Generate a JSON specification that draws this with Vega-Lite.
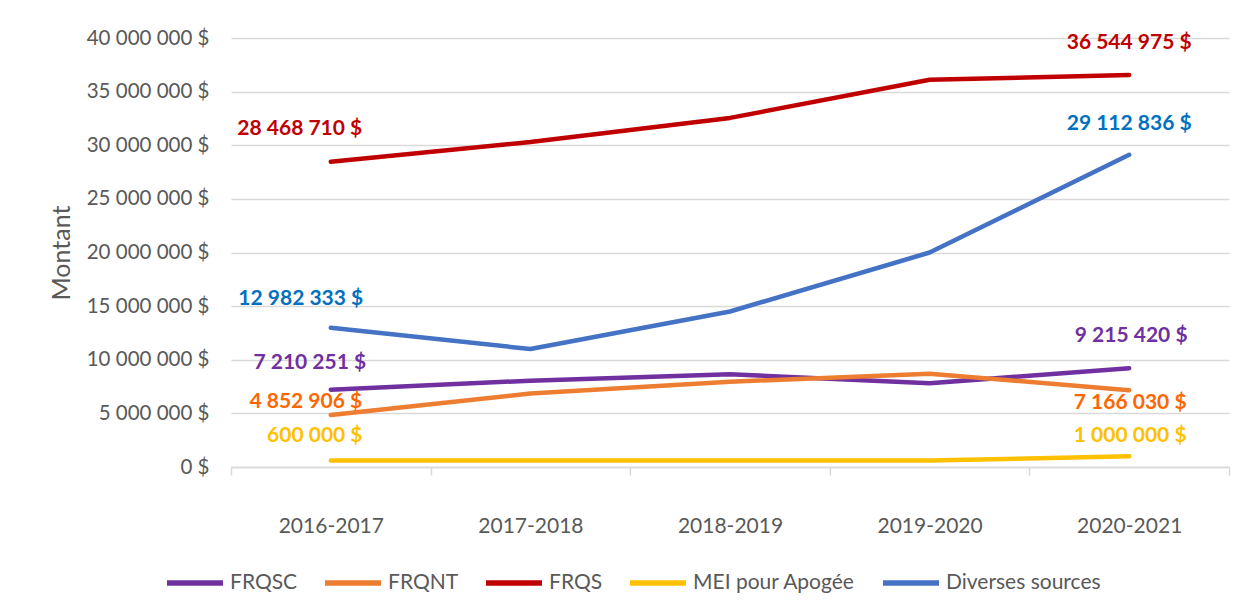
{
  "$schema": "https://vega.github.io/schema/vega-lite/v6.json",
  "autosize": {"type": "none"},
  "padding": {"left": 231, "top": 38, "right": 25, "bottom": 145},
  "width": 998,
  "height": 429,
  "background": "white",
  "config": {
    "locale": {"number": {"decimal": ",", "thousands": " ", "grouping": [3], "currency": ["", " $"]}},
    "view": {"stroke": null},
    "font": "Lato",
    "text": {"font": "Lato", "fontWeight": "bold", "fontSize": 21}
  },
  "data": {
    "values": [
      {"series": "FRQSC", "year": "2016-2017", "value": 7210251},
      {"series": "FRQSC", "year": "2017-2018", "value": 8050000},
      {"series": "FRQSC", "year": "2018-2019", "value": 8650000},
      {"series": "FRQSC", "year": "2019-2020", "value": 7800000},
      {"series": "FRQSC", "year": "2020-2021", "value": 9215420},
      {"series": "FRQNT", "year": "2016-2017", "value": 4852906},
      {"series": "FRQNT", "year": "2017-2018", "value": 6850000},
      {"series": "FRQNT", "year": "2018-2019", "value": 7950000},
      {"series": "FRQNT", "year": "2019-2020", "value": 8700000},
      {"series": "FRQNT", "year": "2020-2021", "value": 7166030},
      {"series": "FRQS", "year": "2016-2017", "value": 28468710},
      {"series": "FRQS", "year": "2017-2018", "value": 30300000},
      {"series": "FRQS", "year": "2018-2019", "value": 32550000},
      {"series": "FRQS", "year": "2019-2020", "value": 36100000},
      {"series": "FRQS", "year": "2020-2021", "value": 36544975},
      {"series": "MEI pour Apogée", "year": "2016-2017", "value": 600000},
      {"series": "MEI pour Apogée", "year": "2017-2018", "value": 600000},
      {"series": "MEI pour Apogée", "year": "2018-2019", "value": 600000},
      {"series": "MEI pour Apogée", "year": "2019-2020", "value": 600000},
      {"series": "MEI pour Apogée", "year": "2020-2021", "value": 1000000},
      {"series": "Diverses sources", "year": "2016-2017", "value": 12982333},
      {"series": "Diverses sources", "year": "2017-2018", "value": 11000000},
      {"series": "Diverses sources", "year": "2018-2019", "value": 14500000},
      {"series": "Diverses sources", "year": "2019-2020", "value": 20000000},
      {"series": "Diverses sources", "year": "2020-2021", "value": 29112836}
    ]
  },
  "encoding": {
    "x": {
      "field": "year", "type": "ordinal",
      "scale": {"paddingInner": 0, "paddingOuter": 0},
      "axis": {
        "title": null, "labelAngle": 0, "labelFontSize": 21, "labelColor": "#595959",
        "labelFont": "Lato", "domainColor": "#D9D9D9", "domainWidth": 1.5,
        "tickColor": "#D9D9D9", "tickWidth": 1.5, "tickSize": 8, "tickBand": "extent",
        "labelPadding": 40, "grid": false
      }
    },
    "y": {
      "field": "value", "type": "quantitative",
      "scale": {"domain": [0, 40000000], "nice": false},
      "axis": {
        "title": "Montant", "titleFontSize": 25, "titleFontWeight": "normal", "titleColor": "#595959",
        "titleFont": "Lato", "titlePadding": 12,
        "values": [0, 5000000, 10000000, 15000000, 20000000, 25000000, 30000000, 35000000, 40000000],
        "format": "$,.0f", "labelFontSize": 20.5, "labelColor": "#595959", "labelFont": "Lato",
        "labelPadding": 22, "ticks": false, "domain": false,
        "gridColor": "#D9D9D9", "gridWidth": 1.5
      }
    }
  },
  "layer": [
    {
      "mark": {"type": "line", "strokeWidth": 4.5, "strokeCap": "round", "strokeJoin": "round"},
      "encoding": {
        "color": {
          "field": "series", "type": "nominal",
          "scale": {
            "domain": ["FRQSC", "FRQNT", "FRQS", "MEI pour Apogée", "Diverses sources"],
            "range": ["#7030A0", "#ED7D31", "#C00000", "#FFC000", "#4472C4"]
          },
          "legend": {
            "title": null, "orient": "none", "direction": "horizontal",
            "legendX": -67, "legendY": 514,
            "symbolType": "stroke", "symbolSize": 3136, "symbolStrokeWidth": 5.5,
            "labelFontSize": 21, "labelColor": "#595959", "labelFont": "Lato", "labelLimit": 400,
            "labelOffset": 4, "columnPadding": 16, "symbolOffset": 0
          }
        }
      }
    },
    {
      "transform": [{"filter": "datum.series == 'FRQS' && datum.year == '2016-2017'"}],
      "mark": {"type": "text", "dx": -31, "dy": -33, "color": "#C00000"},
      "encoding": {"text": {"field": "value", "format": "$,.0f"}}
    },
    {
      "transform": [{"filter": "datum.series == 'Diverses sources' && datum.year == '2016-2017'"}],
      "mark": {"type": "text", "dx": -30, "dy": -29, "color": "#0070C0"},
      "encoding": {"text": {"field": "value", "format": "$,.0f"}}
    },
    {
      "transform": [{"filter": "datum.series == 'FRQSC' && datum.year == '2016-2017'"}],
      "mark": {"type": "text", "dx": -21, "dy": -27, "color": "#7030A0"},
      "encoding": {"text": {"field": "value", "format": "$,.0f"}}
    },
    {
      "transform": [{"filter": "datum.series == 'FRQNT' && datum.year == '2016-2017'"}],
      "mark": {"type": "text", "dx": -25, "dy": -13, "color": "#FF6600"},
      "encoding": {"text": {"field": "value", "format": "$,.0f"}}
    },
    {
      "transform": [{"filter": "datum.series == 'MEI pour Apogée' && datum.year == '2016-2017'"}],
      "mark": {"type": "text", "dx": -16, "dy": -25, "color": "#FFC000"},
      "encoding": {"text": {"field": "value", "format": "$,.0f"}}
    },
    {
      "transform": [{"filter": "datum.series == 'FRQS' && datum.year == '2020-2021'"}],
      "mark": {"type": "text", "dx": 0, "dy": -32, "color": "#C00000"},
      "encoding": {"text": {"field": "value", "format": "$,.0f"}}
    },
    {
      "transform": [{"filter": "datum.series == 'Diverses sources' && datum.year == '2020-2021'"}],
      "mark": {"type": "text", "dx": 0, "dy": -31, "color": "#0070C0"},
      "encoding": {"text": {"field": "value", "format": "$,.0f"}}
    },
    {
      "transform": [{"filter": "datum.series == 'FRQSC' && datum.year == '2020-2021'"}],
      "mark": {"type": "text", "dx": 2, "dy": -32, "color": "#7030A0"},
      "encoding": {"text": {"field": "value", "format": "$,.0f"}}
    },
    {
      "transform": [{"filter": "datum.series == 'FRQNT' && datum.year == '2020-2021'"}],
      "mark": {"type": "text", "dx": 1, "dy": 13, "color": "#FF6600"},
      "encoding": {"text": {"field": "value", "format": "$,.0f"}}
    },
    {
      "transform": [{"filter": "datum.series == 'MEI pour Apogée' && datum.year == '2020-2021'"}],
      "mark": {"type": "text", "dx": 1, "dy": -20, "color": "#FFC000"},
      "encoding": {"text": {"field": "value", "format": "$,.0f"}}
    }
  ]
}
